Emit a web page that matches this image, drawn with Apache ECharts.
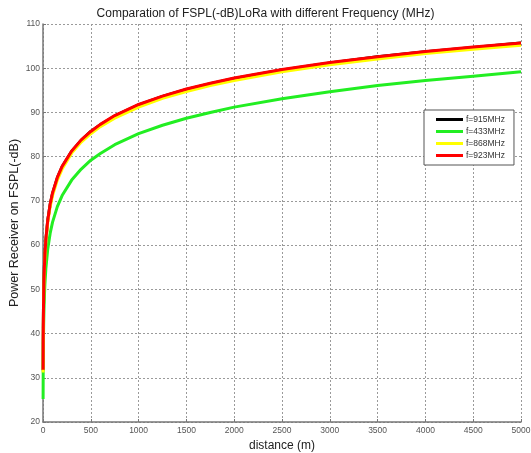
<!DOCTYPE html>
<html>
<head>
<meta charset="utf-8">
<script src="https://cdn.jsdelivr.net/npm/echarts@6/dist/echarts.min.js"></script>
<style>html,body{margin:0;padding:0;background:#fff}#c{width:531px;height:453px}</style>
</head>
<body>
<div id="c"></div>
<script>
var distances = [1, 2, 3, 5, 7, 10, 15, 20, 30, 50, 75, 100, 150, 200, 300, 400, 500, 600, 750, 1000, 1250, 1500, 1750, 2000, 2500, 3000, 3500, 4000, 4500, 5000];
var f915 = [31.7, 37.7, 41.2, 45.7, 48.6, 51.7, 55.2, 57.7, 61.2, 65.7, 69.2, 71.7, 75.2, 77.7, 81.2, 83.7, 85.7, 87.2, 89.2, 91.7, 93.6, 95.2, 96.5, 97.7, 99.6, 101.2, 102.6, 103.7, 104.7, 105.7];
var f433 = [25.2, 31.2, 34.7, 39.2, 42.1, 45.2, 48.7, 51.2, 54.7, 59.2, 62.7, 65.2, 68.7, 71.2, 74.7, 77.2, 79.2, 80.7, 82.7, 85.2, 87.1, 88.7, 90.0, 91.2, 93.1, 94.7, 96.1, 97.2, 98.2, 99.2];
var f868 = [31.2, 37.2, 40.8, 45.2, 48.1, 51.2, 54.7, 57.2, 60.8, 65.2, 68.7, 71.2, 74.7, 77.2, 80.8, 83.3, 85.2, 86.8, 88.7, 91.2, 93.2, 94.7, 96.1, 97.2, 99.2, 100.8, 102.1, 103.3, 104.3, 105.2];
var f923 = [31.8, 37.8, 41.3, 45.7, 48.7, 51.8, 55.3, 57.8, 61.3, 65.7, 69.3, 71.8, 75.3, 77.8, 81.3, 83.8, 85.7, 87.3, 89.3, 91.8, 93.7, 95.3, 96.6, 97.8, 99.7, 101.3, 102.6, 103.8, 104.8, 105.7];
var seriesNames = ['f=915MHz', 'f=433MHz', 'f=868MHz', 'f=923MHz'];
var seriesColors = ['#000000', '#22ee22', '#ffff00', '#ff0000'];

function pairs(ys) { return distances.map(function (d, i) { return [d, ys[i]]; }); }
var allData = [f915, f433, f868, f923];

var chart = echarts.init(document.getElementById('c'));
var gridLine = { show: true, lineStyle: { color: '#9a9a9a', type: [2, 2], width: 1 } };
chart.setOption({
  animation: false,
  backgroundColor: '#fff',
  title: {
    text: 'Comparation of FSPL(-dB)LoRa with different Frequency (MHz)',
    left: 'center', top: 3,
    textStyle: { fontFamily: 'Liberation Sans, Arial', fontSize: 12, fontWeight: 'normal', color: '#222' }
  },
  grid: { left: 43, right: 10, top: 24, bottom: 31, outerBoundsMode: 'none', containLabel: false },
  legend: {
    orient: 'vertical', left: 424, top: 110,
    data: seriesNames,
    icon: 'rect', itemWidth: 27, itemHeight: 3, itemGap: 3,
    backgroundColor: '#fff', borderColor: '#555', borderWidth: 1,
    padding: [5, 9, 5, 12],
    textStyle: { fontFamily: 'Liberation Sans, Arial', fontSize: 8.5, lineHeight: 9, color: '#333', padding: [0, 0, 0, -2] }
  },
  xAxis: {
    type: 'value', min: 0, max: 5000, interval: 500,
    name: 'distance (m)', nameLocation: 'middle', nameGap: 16,
    nameTextStyle: { fontFamily: 'Liberation Sans, Arial', fontSize: 12, color: '#222' },
    axisLine: { show: true, lineStyle: { color: '#777', width: 1.5 } },
    axisTick: { show: true, inside: true, length: 3, lineStyle: { color: '#777' } },
    axisLabel: { fontFamily: 'Liberation Sans, Arial', fontSize: 8.5, color: '#555', margin: 4, formatter: function (v) { return String(v); } },
    splitLine: gridLine
  },
  yAxis: {
    type: 'value', min: 20, max: 110, interval: 10,
    name: 'Power Receiver on FSPL(-dB)', nameLocation: 'middle', nameGap: 22, nameMoveOverlap: false,
    nameTextStyle: { fontFamily: 'Liberation Sans, Arial', fontSize: 12.5, color: '#222' },
    axisLine: { show: true, lineStyle: { color: '#777', width: 1.5 } },
    axisTick: { show: true, inside: true, length: 3, lineStyle: { color: '#777' } },
    axisLabel: { fontFamily: 'Liberation Sans, Arial', fontSize: 8.5, color: '#555', margin: 3, formatter: function (v) { return String(v); } },
    splitLine: gridLine
  },
  series: seriesNames.map(function (n, i) {
    return {
      name: n, type: 'line', data: pairs(allData[i]),
      showSymbol: false, smooth: false,
      lineStyle: { color: seriesColors[i], width: 3, join: 'round' },
      itemStyle: { color: seriesColors[i] },
      z: 2 + i
    };
  })
});
</script>
</body>
</html>
